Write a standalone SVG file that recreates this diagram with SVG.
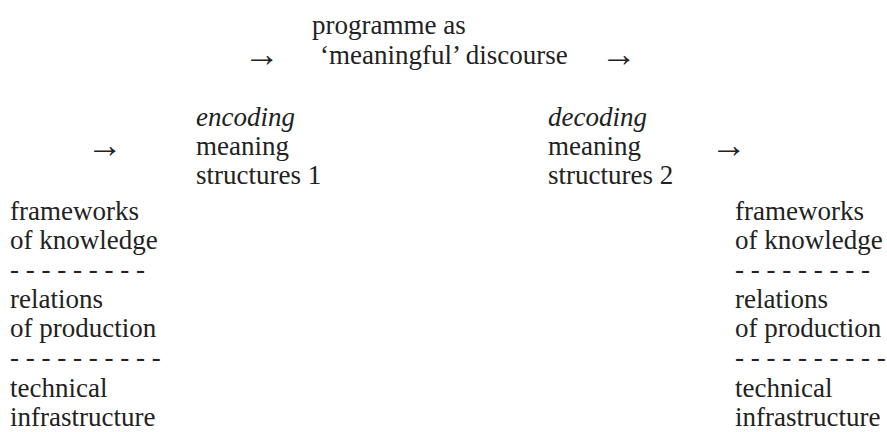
<svg xmlns="http://www.w3.org/2000/svg" width="887" height="432" viewBox="0 0 887 432">
  <style>
    text { font-family: "Liberation Serif", Tinos, "Times New Roman", serif; font-size: 27px; fill: #222; }
    .it { font-style: italic; }
    .arrow { font-size: 36px; }
  </style>
  <rect width="887" height="432" fill="#fff"/>

  <!-- central message -->
  <g id="programme">
    <text x="312" y="34">programme as</text>
    <text x="320" y="64">‘meaningful’ discourse</text>
  </g>

  <!-- encoding side -->
  <g id="encoding">
    <text x="196" y="126" class="it">encoding</text>
    <text x="196" y="155">meaning</text>
    <text x="196" y="184">structures 1</text>
  </g>

  <!-- decoding side -->
  <g id="decoding">
    <text x="548" y="126" class="it">decoding</text>
    <text x="548" y="155">meaning</text>
    <text x="548" y="184">structures 2</text>
  </g>

  <!-- production context -->
  <g id="production-context">
    <text x="10" y="220">frameworks</text>
    <text x="10" y="249">of knowledge</text>
    <text x="10" y="278">- - - - - - - - -</text>
    <text x="10" y="308">relations</text>
    <text x="10" y="337">of production</text>
    <text x="10" y="366">- - - - - - - - - -</text>
    <text x="10" y="397">technical</text>
    <text x="10" y="426">infrastructure</text>
  </g>

  <!-- reception context -->
  <g id="reception-context">
    <text x="735" y="220">frameworks</text>
    <text x="735" y="249">of knowledge</text>
    <text x="735" y="278">- - - - - - - - -</text>
    <text x="735" y="308">relations</text>
    <text x="735" y="337">of production</text>
    <text x="735" y="366">- - - - - - - - - -</text>
    <text x="735" y="397">technical</text>
    <text x="735" y="426">infrastructure</text>
  </g>

  <!-- flow arrows -->
  <g id="connectors">
    <text class="arrow" x="244" y="66">→</text>
    <text class="arrow" x="601" y="66">→</text>
    <text class="arrow" x="87" y="157">→</text>
    <text class="arrow" x="711" y="157">→</text>
  </g>
</svg>
